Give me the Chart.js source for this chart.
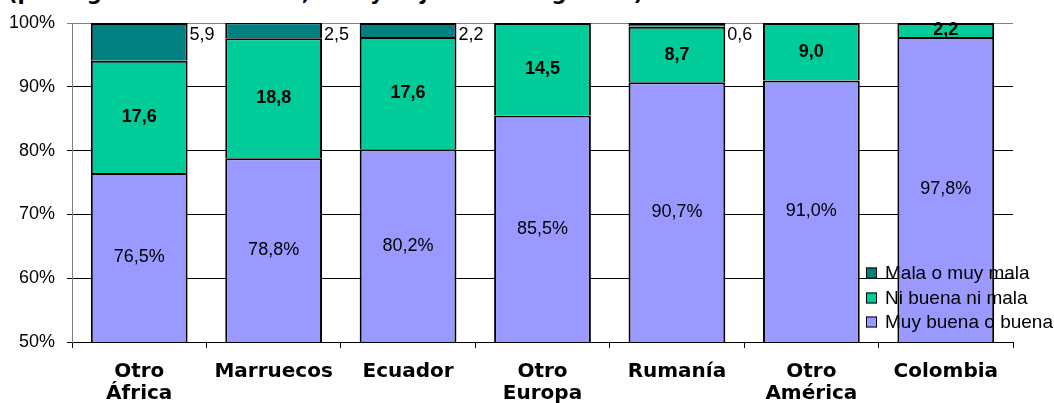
<!DOCTYPE html>
<html>
<head>
<meta charset="utf-8">
<script src="https://cdn.jsdelivr.net/npm/chart.js@4"></script>
<style>
  html, body { margin: 0; padding: 0; background: #fff; }
  #wrap { position: relative; width: 1054px; height: 403px; overflow: hidden; }
  #titulo { position: absolute; left: 8px; top: -19px; font: bold 21px "DejaVu Sans", Verdana, sans-serif; color: #000; white-space: nowrap; }
  canvas { position: absolute; left: 0; top: 0; }
</style>
</head>
<body>
<div id="wrap">
  <div id="titulo">(por lugar de nacimiento, alta y baja de los registros)</div>
  <canvas id="grafico" width="1054" height="403"></canvas>
</div>
<script>
const lugares = [['Otro', 'África'], 'Marruecos', 'Ecuador', ['Otro', 'Europa'], 'Rumanía', ['Otro', 'América'], 'Colombia'];

const muyBuena = [76.5, 78.8, 80.2, 85.5, 90.7, 91.0, 97.8];
const niBuena = [17.6, 18.8, 17.6, 14.5, 8.7, 9.0, 2.2];
const mala = [5.9, 2.5, 2.2, 0, 0.6, 0, 0];

const marcasY = [50, 60, 70, 80, 90, 100];

const coma = v => v.toFixed(1).replace('.', ',');

// etiquetas de cada tramo
const etiquetas = {
    id: 'etiquetas',
    afterDatasetsDraw(chart) {
        const ctx = chart.ctx;
        const abajo = chart.chartArea.bottom;
        ctx.save();
        ctx.fillStyle = '#000';
        chart.data.datasets.forEach((ds, i) => {
            chart.getDatasetMeta(i).data.forEach((bar, j) => {
                const v = ds.data[j];
                if (!v) return;
                const medio = (bar.y + Math.min(bar.base, abajo)) / 2;
                if (i === 0) {
                    ctx.font = '18px "Liberation Sans", Arial, sans-serif';
                    ctx.textAlign = 'center';
                    ctx.textBaseline = 'middle';
                    ctx.fillText(coma(v) + '%', bar.x, medio);
                } else if (i === 1) {
                    ctx.font = 'bold 18px "Liberation Sans", Arial, sans-serif';
                    ctx.textAlign = 'center';
                    ctx.textBaseline = 'middle';
                    ctx.fillText(coma(v), bar.x, medio);
                } else {
                    ctx.font = '18px "Liberation Sans", Arial, sans-serif';
                    ctx.textAlign = 'left';
                    ctx.textBaseline = 'middle';
                    ctx.fillText(coma(v), bar.x + bar.width / 2 + 2, chart.scales.y.getPixelForValue(100) + 12);
                }
            });
        });
        ctx.restore();
    }
};

// leyenda encima de la zona de trazado
const leyenda = {
    id: 'leyenda',
    afterDraw(chart) {
        const ctx = chart.ctx;
        const x = 866, y0 = 273, paso = 24.5;
        ctx.save();
        ctx.font = '19px "Liberation Sans", Arial, sans-serif';
        ctx.textAlign = 'left';
        ctx.textBaseline = 'middle';
        const ds = chart.data.datasets.slice().reverse();
        ds.forEach((d, k) => {
            const y = Math.round(y0 + k * paso);
            ctx.fillStyle = d.backgroundColor;
            ctx.fillRect(x, y - 5.5, 11, 11);
            ctx.strokeStyle = '#000';
            ctx.lineWidth = 1;
            ctx.strokeRect(x + 0.5, y - 5, 10, 10);
            ctx.fillStyle = '#000';
            ctx.fillText(d.label, x + 19, y + 1);
        });
        ctx.restore();
    }
};

new Chart(document.getElementById('grafico'), {
    type: 'bar',
    data: {
        labels: lugares,
        datasets: [
            { label: 'Muy buena o buena', data: muyBuena, backgroundColor: '#9999FF' },
            { label: 'Ni buena ni mala', data: niBuena, backgroundColor: '#00CC99' },
            { label: 'Mala o muy mala', data: mala, backgroundColor: '#008080' }
        ]
    },
    options: {
        responsive: false,
        animation: false,
        layout: { padding: { left: 0, right: 41, top: 23, bottom: 0 } },
        datasets: {
            bar: {
                borderColor: '#000',
                borderWidth: { top: 2, left: 2, right: 2, bottom: 0 },
                borderSkipped: false,
                inflateAmount: 0,
                categoryPercentage: 0.72,
                barPercentage: 1
            }
        },
        plugins: {
            legend: { display: false },
            tooltip: { enabled: false }
        },
        scales: {
            x: {
                stacked: true,
                grid: { display: true, drawOnChartArea: false, offset: true, tickLength: 6, color: '#000' },
                border: { color: '#000', width: 1 },
                ticks: {
                    color: '#000',
                    font: { family: '"DejaVu Sans", Verdana, sans-serif', size: 20, weight: 'bold', lineHeight: 1.1 },
                    padding: 13,
                    maxRotation: 0,
                    autoSkip: false
                },
                afterFit: s => { s.height = 61; }
            },
            y: {
                stacked: true,
                min: 50,
                max: 100,
                afterBuildTicks: s => { s.ticks = marcasY.map(v => ({ value: v })); },
                grid: { color: c => c.tick && c.tick.value === 100 ? '#808080' : '#000', tickLength: 5 },
                border: { color: '#808080', width: 1 },
                ticks: {
                    color: '#000',
                    font: { family: '"Liberation Sans", Arial, sans-serif', size: 18 },
                    padding: 12,
                    callback: v => v + '%'
                },
                afterFit: s => { s.width = 72; }
            }
        }
    },
    plugins: [etiquetas, leyenda]
});
</script>
</body>
</html>
